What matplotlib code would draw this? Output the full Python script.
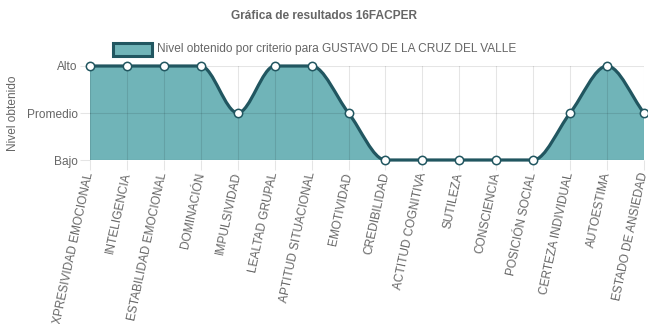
import matplotlib
matplotlib.use("Agg")
import matplotlib.pyplot as plt
from matplotlib.path import Path
from matplotlib.patches import PathPatch, Rectangle
import numpy as np

plt.rcParams['font.family'] = ['Liberation Sans', 'DejaVu Sans']

criterios = ["EXPRESIVIDAD EMOCIONAL", "INTELIGENCIA", "ESTABILIDAD EMOCIONAL",
             "DOMINACIÓN", "IMPULSIVIDAD", "LEALTAD GRUPAL", "APTITUD SITUACIONAL",
             "EMOTIVIDAD", "CREDIBILIDAD", "ACTITUD COGNITIVA", "SUTILEZA",
             "CONSCIENCIA", "POSICIÓN SOCIAL", "CERTEZA INDIVIDUAL", "AUTOESTIMA",
             "ESTADO DE ANSIEDAD"]
niveles = ["Bajo", "Promedio", "Alto"]
# 0 = Bajo, 1 = Promedio, 2 = Alto
valores = [2, 2, 2, 2, 1, 2, 2, 1, 0, 0, 0, 0, 0, 1, 2, 1]
serie = "Nivel obtenido por criterio para GUSTAVO DE LA CRUZ DEL VALLE"

relleno = "#70b4b8"
linea = "#215660"
gris = "#666666"


def control_monotono(x, y):
    # tangentes monotonas (como cubicInterpolationMode: 'monotone')
    x = np.asarray(x, float)
    y = np.asarray(y, float)
    n = len(x)
    d = np.diff(y) / np.diff(x)
    m = np.zeros(n)
    m[0] = d[0]
    m[-1] = d[-1]
    for i in range(1, n - 1):
        if d[i - 1] * d[i] > 0:
            m[i] = (d[i - 1] + d[i]) / 2
    for i in range(n - 1):
        if d[i] == 0:
            m[i] = m[i + 1] = 0
            continue
        a = m[i] / d[i]
        b = m[i + 1] / d[i]
        s = a * a + b * b
        if s > 9:
            t = 3 / np.sqrt(s)
            m[i] = t * a * d[i]
            m[i + 1] = t * b * d[i]
    verts = [(x[0], y[0])]
    codes = [Path.MOVETO]
    for i in range(n - 1):
        h = (x[i + 1] - x[i]) / 3
        verts += [(x[i] + h, y[i] + m[i] * h),
                  (x[i + 1] - h, y[i + 1] - m[i + 1] * h),
                  (x[i + 1], y[i + 1])]
        codes += [Path.CURVE4] * 3
    return verts, codes


fig = plt.figure(figsize=(6.48, 3.24), dpi=100)
ax = fig.add_axes([90 / 648, 164 / 324, 554 / 648, 94 / 324])

xs = np.arange(len(criterios))
verts, codes = control_monotono(xs, valores)

area = Path(verts + [(xs[-1], 0), (xs[0], 0), (xs[0], valores[0])],
            codes + [Path.LINETO, Path.LINETO, Path.CLOSEPOLY])
ax.add_patch(PathPatch(area, facecolor=relleno, edgecolor="none", zorder=1))
ax.add_patch(PathPatch(Path(verts, codes), facecolor="none", edgecolor=linea,
                       lw=2.3, zorder=3, clip_on=False))
ax.plot(xs, valores, "o", ms=6, mfc="white", mec=linea, mew=1.1, zorder=4, clip_on=False)

ax.set_xlim(0, len(criterios) - 1)
ax.set_ylim(0, 2)
ax.set_xticks(xs)
ax.set_xticklabels(criterios, rotation=78, ha="right", va="center",
                   rotation_mode="anchor", fontsize=8.6, color=gris)
ax.set_yticks(range(len(niveles)))
ax.set_yticklabels(niveles, fontsize=8.6, color=gris)
ax.tick_params(axis="both", length=7, color=(0, 0, 0, 0.1), pad=2)
ax.grid(True, color="black", alpha=0.1, lw=0.8, zorder=2)
ax.set_axisbelow(False)
for s in ax.spines.values():
    s.set_visible(False)
ax.axhline(0, color="black", alpha=0.15, lw=0.8, zorder=2)

ax.set_ylabel("Nivel obtenido", fontsize=8.6, color=gris)
ax.yaxis.set_label_coords(-71 / 554, 0.5)

fig.text(324 / 648, 1 - 16 / 324, "Gráfica de resultados 16FACPER", ha="center",
         va="center", fontsize=8.6, fontweight="bold", color=gris)
fig.patches.append(Rectangle((113 / 648, 1 - 56 / 324), 39 / 648, 13 / 324,
                             transform=fig.transFigure, facecolor=relleno,
                             edgecolor=linea, lw=2.2))
fig.text(157 / 648, 1 - 49 / 324, serie, ha="left", va="center", fontsize=8.6, color=gris)

fig.savefig("out.png", dpi=100)
